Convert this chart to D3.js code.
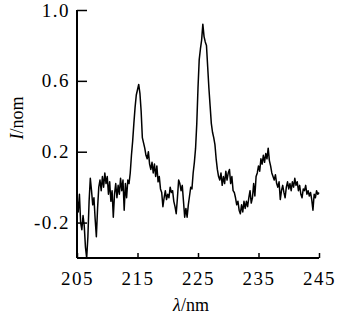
<!DOCTYPE html>
<html>
<head>
<meta charset="utf-8">
<script src="https://cdn.jsdelivr.net/npm/d3@7"></script>
<style>
  body { margin: 0; background: #fff; }
  svg text { font-family: "Liberation Serif", "DejaVu Serif", serif; }
</style>
</head>
<body>
<svg id="chart" width="339" height="320"></svg>
<script>
// wavelength (nm) and normalised intensity
var wavelength = [
  205.0,205.2,205.4,205.6,205.8,206.0,206.2,206.4,206.6,206.8,
  207.0,207.2,207.4,207.6,207.8,208.0,208.2,208.4,208.6,208.8,
  209.0,209.2,209.4,209.6,209.8,210.0,210.2,210.4,210.6,210.8,
  211.0,211.2,211.4,211.6,211.8,212.0,212.2,212.4,212.6,212.8,
  213.0,213.2,213.4,213.6,213.8,214.0,214.2,214.4,214.6,214.8,
  215.0,215.2,215.4,215.6,215.8,216.0,216.2,216.4,216.6,216.8,
  217.0,217.2,217.4,217.6,217.8,218.0,218.2,218.4,218.6,218.8,
  219.0,219.2,219.4,219.6,219.8,220.0,220.2,220.4,220.6,220.8,
  221.0,221.2,221.4,221.6,221.8,222.0,222.2,222.4,222.6,222.8,
  223.0,223.2,223.4,223.6,223.8,224.0,224.2,224.4,224.6,224.8,
  225.0,225.2,225.4,225.6,225.8,226.0,226.2,226.4,226.6,226.8,
  227.0,227.2,227.4,227.6,227.8,228.0,228.2,228.4,228.6,228.8,
  229.0,229.2,229.4,229.6,229.8,230.0,230.2,230.4,230.6,230.8,
  231.0,231.2,231.4,231.6,231.8,232.0,232.2,232.4,232.6,232.8,
  233.0,233.2,233.4,233.6,233.8,234.0,234.2,234.4,234.6,234.8,
  235.0,235.2,235.4,235.6,235.8,236.0,236.2,236.4,236.6,236.8,
  237.0,237.2,237.4,237.6,237.8,238.0,238.2,238.4,238.6,238.8,
  239.0,239.2,239.4,239.6,239.8,240.0,240.2,240.4,240.6,240.8,
  241.0,241.2,241.4,241.6,241.8,242.0,242.2,242.4,242.6,242.8,
  243.0,243.2,243.4,243.6,243.8,244.0,244.2,244.4,244.6,244.8,
  245.0
];
var intensity = [
  -0.06,-0.14,-0.04,-0.20,-0.24,-0.16,-0.22,-0.34,-0.40,-0.28,
  -0.08, 0.05,-0.02,-0.10,-0.06,-0.18,-0.28,-0.12, 0.00, 0.04,
  -0.02, 0.06, 0.00, 0.08, 0.02, 0.06,-0.04, 0.03,-0.08,-0.02,
  -0.17,-0.04, 0.02,-0.06, 0.01,-0.04, 0.05,-0.02, 0.04,-0.13,
   0.02,-0.06, 0.04, 0.02, 0.08, 0.18, 0.26, 0.36, 0.45, 0.52,
   0.55, 0.58, 0.53, 0.43, 0.28, 0.25, 0.22, 0.18, 0.16, 0.20,
   0.13, 0.10, 0.14, 0.08, 0.13, 0.06, 0.12, 0.03, 0.06,-0.01,
  -0.03,-0.11,-0.06,-0.02,-0.07,-0.04,-0.06, 0.00,-0.03,-0.02,
  -0.08,-0.11,-0.15,-0.06, 0.04, 0.02,-0.02, 0.01,-0.08,-0.17,
  -0.12,-0.17,-0.10,-0.05, 0.00,-0.01, 0.08, 0.14, 0.22, 0.36,
   0.56, 0.72, 0.78, 0.83, 0.92, 0.85, 0.82, 0.80, 0.68, 0.56,
   0.46, 0.36, 0.31, 0.28, 0.24, 0.16, 0.10, 0.06, 0.04, 0.08,
   0.01, 0.06, 0.02, 0.09, 0.04, 0.08, 0.10, 0.02, 0.06,-0.02,
  -0.03,-0.06,-0.10,-0.08,-0.13,-0.15,-0.10,-0.14,-0.08,-0.12,
  -0.08,-0.11,-0.06,-0.02,-0.09,-0.06, 0.02,-0.05, 0.06, 0.08,
   0.12, 0.09, 0.16, 0.13, 0.18, 0.14, 0.19, 0.16, 0.22, 0.15,
   0.12, 0.08, 0.06, 0.04, 0.07, 0.02, 0.00, 0.03,-0.07,-0.02,
   0.01,-0.03,-0.06, 0.00, 0.03,-0.01, 0.02,-0.02, 0.03, 0.00,
   0.05, 0.01, 0.03,-0.02, 0.01,-0.04,-0.06,-0.01,-0.02, 0.01,
  -0.04,-0.02,-0.05,-0.03,-0.07,-0.13,-0.04,-0.06,-0.02,-0.04,
  -0.03
];
var xTicks = [205, 215, 225, 235, 245];
var yTicks = [-0.2, 0.2, 0.6, 1.0];

var margin = {top: 10, right: 20, bottom: 62, left: 77};
var width = 339 - margin.left - margin.right;
var height = 320 - margin.top - margin.bottom;

var svg = d3.select("#chart");

var chart = svg.append("g")
    .attr("transform", "translate(" + margin.left + "," + margin.top + ")");

var x = d3.scaleLinear().domain([205, 245]).range([0, width]);
var y = d3.scaleLinear().domain([-0.4, 1.0]).range([height, 0]);

var line = d3.line()
    .x(function(d, i){ return x(wavelength[i]); })
    .y(function(d){ return y(d); });

chart.append("path")
    .datum(intensity)
    .attr("d", line)
    .attr("fill", "none")
    .attr("stroke", "#000")
    .attr("stroke-width", 1.5)
    .attr("stroke-linejoin", "round");

var xaxis = d3.axisBottom(x).tickValues(xTicks).tickSize(-5).tickPadding(14)
    .tickFormat(d3.format("d"));
var yaxis = d3.axisLeft(y).tickValues(yTicks).tickSize(-10).tickPadding(7)
    .tickFormat(function(d){ return d.toFixed(1); });   // plain hyphen minus like the original

var gx = chart.append("g")
    .attr("transform", "translate(0," + height + ")")
    .call(xaxis);
var gy = chart.append("g").call(yaxis);

[gx, gy].forEach(function(g){
    g.attr("font-family", "'Liberation Serif', serif").attr("font-size", 19);
    g.select(".domain").attr("stroke", "#000").attr("stroke-width", 2);
    g.selectAll(".tick line").attr("stroke", "#000").attr("stroke-width", 1.5);
    g.selectAll(".tick text")
        .attr("fill", "#000")
        .style("letter-spacing", "1.5px");
});
gx.select(".domain").attr("d", "M0,0H" + width);
gy.select(".domain").attr("d", "M0," + height + "V0");

// axis titles
svg.append("text")
    .attr("x", 191).attr("y", 311)
    .attr("text-anchor", "middle")
    .style("font-size", "18px")
    .html('<tspan font-style="italic">λ</tspan>/nm');

svg.append("text")
    .attr("transform", "translate(23,118) rotate(-90)")
    .attr("text-anchor", "middle")
    .style("font-size", "18px")
    .html('<tspan font-style="italic">I</tspan>/nom');
</script>
</body>
</html>
